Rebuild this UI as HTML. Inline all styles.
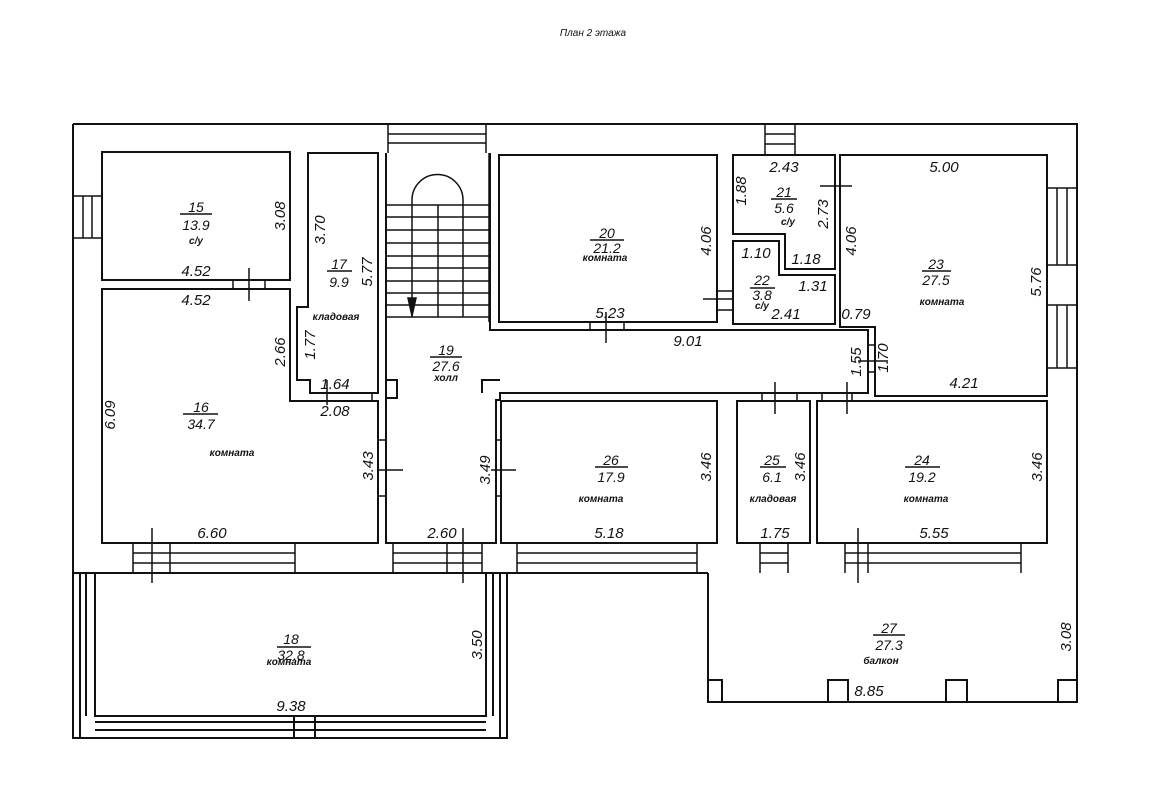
<!DOCTYPE html>
<html><head><meta charset="utf-8"><style>
html,body{margin:0;padding:0;background:#fff}
svg{display:block}
text{font-family:"Liberation Sans",sans-serif;font-style:italic;fill:#111}
.d{font-size:15px}
.n{font-size:14px}
.s{font-size:10px;font-weight:bold}
</style></head><body>
<svg width="1150" height="797" viewBox="0 0 1150 797" xmlns="http://www.w3.org/2000/svg">
<g fill="none" stroke="#111" stroke-width="2">
<path d="M73,124 H1077 V573 M73,124 V573"/>
<path d="M73,573 H708 M708,573 V702 H1077 V573"/>
<path d="M73,573 V738 H507 V573"/>
<path d="M95,573 V716 H486 V573" />
<path d="M80,573 V738 M86,573 V716 M493,573 V716 M500,573 V738 M95,722 H486 M95,730 H486 M294,716 V738 M315,716 V738"/>
<path d="M708,680 H722 V702 M828,702 V680 H848 V702 M946,702 V680 H967 V702 M1077,680 H1058 V702"/>
<rect x="102" y="152" width="188" height="128"/>
<path d="M102,289 H290 V401 H378 V543 H102 Z"/>
<path d="M308,153 H378 V393 H310 V380 H297 V307 H308 Z"/>
<path d="M386,153 V543 H496 V400 H500 V393 H868 V330 H490 V153"/>
<path d="M386,380 H397 V398 H386 M482,393 V380 H500"/>
<rect x="499" y="155" width="218" height="167"/>
<path d="M733,155 H835 V269 H785 V234 H733 Z"/>
<path d="M733,241 H779 V275 H835 V324 H733 Z"/>
<path d="M840,155 H1047 V396 H875 V327 H840 Z"/>
<rect x="501" y="401" width="216" height="142"/>
<rect x="737" y="401" width="73" height="142"/>
<rect x="817" y="401" width="230" height="142"/>
</g>
<g fill="none" stroke="#111" stroke-width="1.5">
<path d="M386,205 H489 M386,217 H489 M386,230 H489 M386,243 H489 M386,256 H489 M386,268 H489 M386,281 H489 M386,293 H489 M386,305 H489 M386,317 H489"/>
<path d="M412,205 V317 M438,205 V317 M463,205 V317 M489,153 V322"/>
<path d="M412,205 V200 A25.5,25.5 0 0 1 463,200 V205"/>
<path d="M388,124 V153 M486,124 V153 M388,134 H486 M388,143 H486"/>
<path d="M765,124 V155 M795,124 V155 M765,134 H795 M765,144 H795"/>
<path d="M73,196 H102 M73,238 H102 M83,196 V238 M92,196 V238"/>
<path d="M1047,188 H1077 M1047,265 H1077 M1057,188 V265 M1067,188 V265"/>
<path d="M1047,305 H1077 M1047,368 H1077 M1057,305 V368 M1067,305 V368"/>
<path d="M133,543 V573 M295,543 V573 M133,553 H295 M133,563 H295 M170,543 V573"/>
<path d="M393,543 V573 M482,543 V573 M393,553 H482 M393,563 H482 M447,543 V573"/>
<path d="M517,543 V573 M697,543 V573 M517,553 H697 M517,563 H697"/>
<path d="M760,543 V573 M788,543 V573 M760,553 H788 M760,563 H788"/>
<path d="M845,543 V573 M1021,543 V573 M845,553 H1021 M845,563 H1021 M868,543 V573"/>
<path d="M233,280 V289 M265,280 V289 M590,322 V330 M624,322 V330 M717,291 H733 M717,310 H733 M378,440 H386 M378,496 H386 M496,440 H501 M496,496 H501 M868,345 H875 M868,372 H875 M762,393 V401 M797,393 V401 M822,393 V401 M852,393 V401 M372,393 V401 M386,393 V401"/>
<path d="M249,268 V301 M606,312 V343 M703,299 H734 M378,470 H403 M491,470 H516 M820,186 H852 M858,361 H888 M775,382 V414 M847,382 V414 M152,528 V583 M463,528 V583 M858,528 V583 M327,380 V405"/>
<path d="M412,298 L408,298 L412,316 L416,298 Z" fill="#111"/>
</g>
<g stroke="#111" stroke-width="1.5">
<path d="M180,214 H212 M327,271 H352 M430,357 H462 M590,240 H624 M771,199 H797 M922,271 H951 M750,288 H775 M595,467 H628 M760,467 H786 M905,467 H940 M183,414 H218 M277,647 H311 M873,635 H905"/>
</g>
<text x="593" y="36" text-anchor="middle" style="font-size:10px">План 2 этажа</text>
<g text-anchor="middle" class="n">
<text x="196" y="212">15</text><text x="196" y="230">13.9</text><text x="196" y="244" class="s">с/у</text>
<text x="339" y="269">17</text><text x="339" y="287">9.9</text><text x="336" y="320" class="s">кладовая</text>
<text x="446" y="355">19</text><text x="446" y="371">27.6</text><text x="446" y="381" class="s">холл</text>
<text x="607" y="238">20</text><text x="607" y="253">21.2</text><text x="605" y="261" class="s">комната</text>
<text x="784" y="197">21</text><text x="784" y="213">5.6</text><text x="788" y="225" class="s">с/у</text>
<text x="762" y="285">22</text><text x="762" y="300">3.8</text><text x="762" y="309" class="s">с/у</text>
<text x="936" y="269">23</text><text x="936" y="285">27.5</text><text x="942" y="305" class="s">комната</text>
<text x="201" y="412">16</text><text x="201" y="429">34.7</text><text x="232" y="456" class="s">комната</text>
<text x="611" y="465">26</text><text x="611" y="482">17.9</text><text x="601" y="502" class="s">комната</text>
<text x="772" y="465">25</text><text x="772" y="482">6.1</text><text x="773" y="502" class="s">кладовая</text>
<text x="922" y="465">24</text><text x="922" y="482">19.2</text><text x="926" y="502" class="s">комната</text>
<text x="291" y="644">18</text><text x="291" y="660">32.8</text><text x="289" y="665" class="s">комната</text>
<text x="889" y="633">27</text><text x="889" y="650">27.3</text><text x="881" y="664" class="s">балкон</text>
</g>
<g text-anchor="middle" class="d">
<text x="196" y="276">4.52</text><text x="196" y="305">4.52</text>
<text x="335" y="389">1.64</text><text x="335" y="416">2.08</text>
<text x="610" y="318">5.23</text><text x="688" y="346">9.01</text>
<text x="784" y="172">2.43</text><text x="756" y="258">1.10</text><text x="806" y="264">1.18</text>
<text x="813" y="291">1.31</text><text x="786" y="319">2.41</text><text x="856" y="319">0.79</text>
<text x="944" y="172">5.00</text><text x="964" y="388">4.21</text>
<text x="212" y="538">6.60</text><text x="442" y="538">2.60</text><text x="609" y="538">5.18</text>
<text x="775" y="538">1.75</text><text x="934" y="538">5.55</text>
<text x="291" y="711">9.38</text><text x="869" y="696">8.85</text>
</g>
<g text-anchor="middle" class="d">
<text transform="translate(285,216) rotate(-90)">3.08</text>
<text transform="translate(325,230) rotate(-90)">3.70</text>
<text transform="translate(372,272) rotate(-90)">5.77</text>
<text transform="translate(285,352) rotate(-90)">2.66</text>
<text transform="translate(315,345) rotate(-90)">1.77</text>
<text transform="translate(115,415) rotate(-90)">6.09</text>
<text transform="translate(373,466) rotate(-90)">3.43</text>
<text transform="translate(490,470) rotate(-90)">3.49</text>
<text transform="translate(711,241) rotate(-90)">4.06</text>
<text transform="translate(746,191) rotate(-90)">1.88</text>
<text transform="translate(828,214) rotate(-90)">2.73</text>
<text transform="translate(856,241) rotate(-90)">4.06</text>
<text transform="translate(1041,282) rotate(-90)">5.76</text>
<text transform="translate(861,362) rotate(-90)">1.55</text>
<text transform="translate(888,358) rotate(-90)">1.70</text>
<text transform="translate(711,467) rotate(-90)">3.46</text>
<text transform="translate(805,467) rotate(-90)">3.46</text>
<text transform="translate(1042,467) rotate(-90)">3.46</text>
<text transform="translate(482,645) rotate(-90)">3.50</text>
<text transform="translate(1071,637) rotate(-90)">3.08</text>
</g>
</svg>
</body></html>
